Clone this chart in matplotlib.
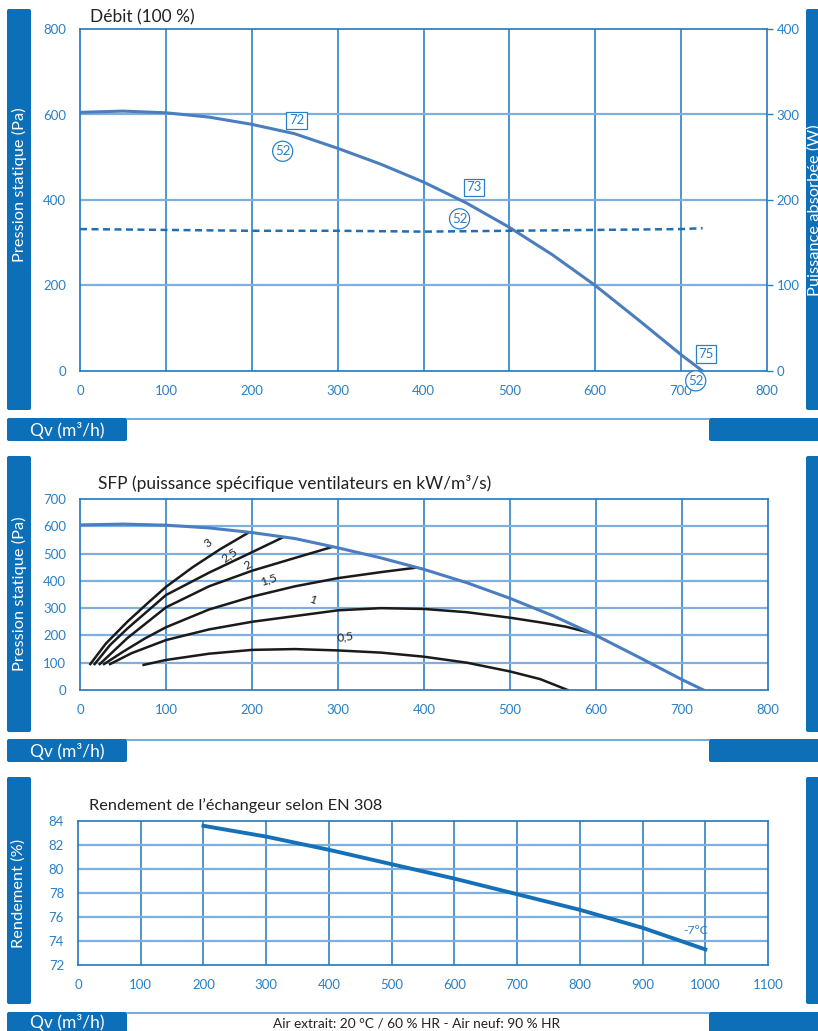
import matplotlib.pyplot as plt
from matplotlib.patches import FancyBboxPatch

plt.rcParams['font.family'] = ['Lato', 'DejaVu Sans']

W, H = 818, 1031
BAR = '#0d6fb8'
TICK = '#2b80c5'
GRID = '#1f78c1'
GRID_LIGHT = '#7fb0dd'
CURVE = '#4a7ebf'

# courbe débit / pression (100 %)
q_curve = [0, 50, 100, 150, 200, 250, 300, 350, 400, 450, 500, 550, 600, 650, 700, 725]
p_curve = [605, 608, 604, 594, 577, 555, 521, 484, 442, 393, 336, 272, 200, 120, 38, 0]

# puissance absorbée (W)
q_power = [0, 100, 200, 300, 400, 500, 600, 700, 725]
w_power = [166, 165, 164, 164, 163, 164, 165, 166, 167]

# niveaux sonores aux points de fonctionnement
lw_q = [252, 459, 729]
lw_p = [586, 430, 40]
lw_txt = ['72', '73', '75']
lp_q = [236, 442, 717]
lp_p = [514, 356, -23]
lp_txt = ['52', '52', '52']

# SFP (kW/m3/s)
sfp_labels = ['3', '2,5', '2', '1,5', '1', '0,5']
sfp_q = [
    [12, 30, 55, 80, 100, 131, 163, 195],
    [17, 35, 55, 100, 150, 200, 235],
    [23, 55, 100, 150, 200, 250, 293],
    [28, 50, 75, 100, 150, 200, 250, 300, 350, 390],
    [35, 60, 100, 150, 200, 300, 350, 400, 450, 500, 535, 565, 590],
    [74, 100, 150, 200, 250, 300, 350, 400, 450, 500, 535, 567],
]
sfp_p = [
    [95, 170, 250, 322, 378, 450, 516, 575],
    [95, 165, 225, 348, 430, 505, 558],
    [95, 190, 303, 380, 437, 484, 524],
    [95, 140, 188, 230, 295, 342, 380, 410, 432, 448],
    [95, 135, 183, 222, 250, 292, 300, 297, 285, 265, 248, 232, 212],
    [92, 110, 133, 147, 150, 145, 137, 122, 100, 68, 40, 0],
]
sfp_lab_q = [149, 174, 195, 219, 271, 308]
sfp_lab_p = [539, 495, 458, 403, 330, 194]
sfp_lab_rot = [38, 35, 30, 18, -20, 8]

# rendement échangeur EN 308
q_eff = [200, 300, 400, 500, 600, 700, 800, 900, 1000]
eff = [83.6, 82.7, 81.6, 80.4, 79.2, 77.9, 76.6, 75.1, 73.3]


def rect(left, top, right, bottom):
    return [left / W, 1 - bottom / H, (right - left) / W, (bottom - top) / H]


fig = plt.figure(figsize=(W / 100, H / 100), dpi=100)

# fond: bandeaux bleus
bg = fig.add_axes([0, 0, 1, 1])
bg.set_xlim(0, W)
bg.set_ylim(H, 0)
bg.axis('off')


def box(x0, y0, x1, y1):
    bg.add_patch(FancyBboxPatch((x0, y0), x1 - x0, y1 - y0,
                                boxstyle='round,pad=0,rounding_size=2',
                                fc=BAR, ec='none'))


for top, bot, s_top, s_bot in [(9, 410, 418, 441), (456, 732, 739, 762), (777, 1004, 1012, 1035)]:
    box(7, top, 31, bot)
    box(806, top, 822, bot)
    box(7, s_top, 127, s_bot)
    box(709, s_top, 822, s_bot)
    bg.plot([127, 709], [s_top + 0.5, s_top + 0.5], color='#5b9bd5', lw=1.2)
    bg.text(67, (s_top + min(s_bot, H)) / 2 + 1, 'Qv (m³/h)', color='white',
            fontsize=12.5, ha='center', va='center')

bg.text(19, 185, 'Pression statique (Pa)', color='white', fontsize=11.8,
        rotation=90, ha='center', va='center')
bg.text(19, 594, 'Pression statique (Pa)', color='white', fontsize=11.8,
        rotation=90, ha='center', va='center')
bg.text(19, 893, 'Rendement (%)', color='white', fontsize=11.8,
        rotation=90, ha='center', va='center')
bg.text(815, 210, 'Puissance absorbée (W)', color='white', fontsize=11.8,
        rotation=90, ha='center', va='center')
bg.text(417, 1023, 'Air extrait: 20 °C / 60 % HR - Air neuf: 90 % HR',
        color='#222222', fontsize=9.8, ha='center', va='center')


def style(ax, xt, yt, ylim, xlim):
    ax.set_xlim(*xlim)
    ax.set_ylim(*ylim)
    ax.set_xticks(xt)
    ax.set_yticks(yt)
    for s in ax.spines.values():
        s.set_color(GRID)
        s.set_linewidth(1.2)
    ax.tick_params(colors=TICK, labelsize=9.5, length=0)
    ax.tick_params(axis='x', pad=10)
    ax.tick_params(axis='y', pad=10)
    for x in xt[1:-1]:
        ax.axvline(x, color=GRID, lw=1.1, zorder=0)
    for y in yt[1:-1]:
        ax.axhline(y, color=GRID_LIGHT, lw=1.6, zorder=0)


# --- Débit (100 %)
ax1 = fig.add_axes(rect(80, 29, 767, 371))
style(ax1, range(0, 801, 100), range(0, 801, 200), (0, 800), (0, 800))
ax1.plot(q_curve, p_curve, color=CURVE, lw=2.2, zorder=3)
ax1r = ax1.twinx()
ax1r.set_ylim(0, 400)
ax1r.set_yticks(range(0, 401, 100))
ax1r.tick_params(colors=TICK, labelsize=9.5, length=4, width=1, pad=3)
for s in ax1r.spines.values():
    s.set_visible(False)
ax1r.plot(q_power, w_power, color='#1f6fb5', lw=1.8, dashes=(2.8, 1.8), zorder=3)
for q, p, t in zip(lw_q, lw_p, lw_txt):
    ax1.text(q, p, t, color=TICK, fontsize=9.5, ha='center', va='center', zorder=5,
             bbox=dict(boxstyle='square,pad=0.2', fc='white', ec=TICK, lw=0.9))
for q, p, t in zip(lp_q, lp_p, lp_txt):
    ax1.text(q, p, t, color=TICK, fontsize=9.5, ha='center', va='center', zorder=5,
             clip_on=False,
             bbox=dict(boxstyle='circle,pad=0.18', fc='white', ec=TICK, lw=0.9))
fig.text(90 / W, 1 - 17 / H, 'Débit (100 %)', fontsize=12.5, color='#222222',
         ha='left', va='center')

# --- SFP
ax2 = fig.add_axes(rect(80, 499, 768, 690))
style(ax2, range(0, 801, 100), range(0, 701, 100), (0, 700), (0, 800))
ax2.plot(q_curve, p_curve, color=CURVE, lw=2.2, zorder=3)
for qs, ps in zip(sfp_q, sfp_p):
    ax2.plot(qs, ps, color='#1a1a1a', lw=1.8, zorder=2)
for q, p, t, r in zip(sfp_lab_q, sfp_lab_p, sfp_labels, sfp_lab_rot):
    ax2.text(q, p, t, fontsize=8.8, color='#222222', rotation=r,
             ha='center', va='center', zorder=4)
fig.text(98 / W, 1 - 483 / H, 'SFP (puissance spécifique ventilateurs en kW/m³/s)',
         fontsize=12.5, color='#222222', ha='left', va='center')

# --- Rendement
ax3 = fig.add_axes(rect(78, 821, 768, 965))
style(ax3, range(0, 1101, 100), range(72, 85, 2), (72, 84), (0, 1100))
ax3.plot(q_eff, eff, color='#1570b8', lw=2.8, zorder=3)
ax3.text(984, 74.9, '-7°C', color=TICK, fontsize=8.8, ha='center', va='center')
fig.text(89 / W, 1 - 806 / H, 'Rendement de l’échangeur selon EN 308',
         fontsize=11.8, color='#222222', ha='left', va='center')

fig.savefig('out.png', dpi=100)
